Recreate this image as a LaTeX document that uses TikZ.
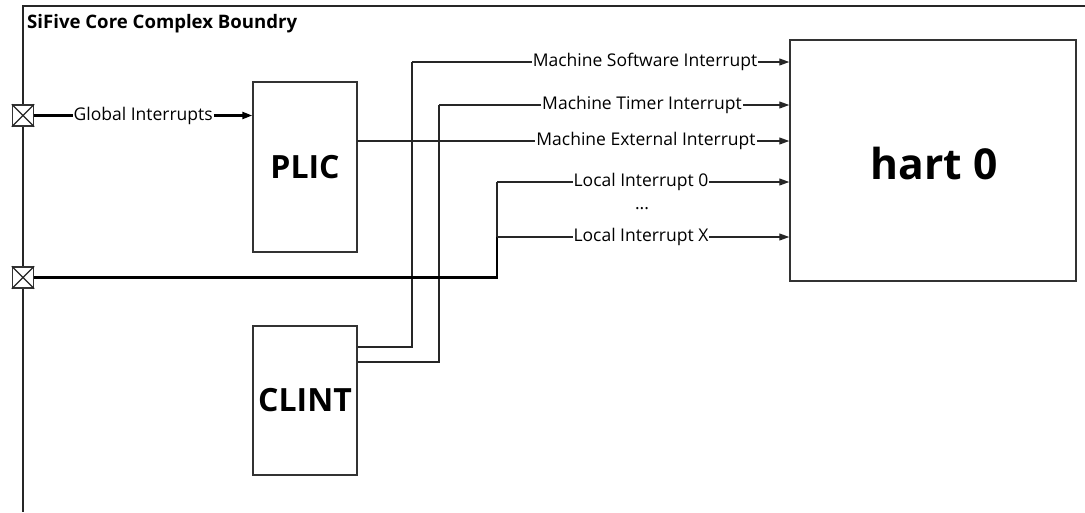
\documentclass[tikz,border=0pt]{standalone}
\usepackage{fontspec}
\setmainfont{Open Sans}
\usetikzlibrary{arrows.meta,calc}
\begin{document}
\begin{tikzpicture}[x=1pt,y=-1pt,
  line/.style={draw=black!85, line width=1.2pt},
  thickline/.style={draw=black, line width=2.6pt},
  arr/.style={-{Triangle[length=10pt,width=7pt]}},
  box/.style={draw=black!80, line width=1.5pt, fill=white, inner sep=0pt},
  port/.style={draw=black!80, line width=1.3pt, fill=white, minimum size=21pt, inner sep=0pt},
  lbl/.style={fill=white, inner sep=1pt, font=\fontsize{17.5}{20}\selectfont},
  big/.style={font=\fontsize{#1}{#1}\selectfont\bfseries},
]
\useasboundingbox (0,0) rectangle (1085,512);
% boundary
\draw[line] (1085,6) -- (23,6) -- (23,512);
\node[anchor=north west, inner sep=0pt, font=\fontsize{18.6}{20}\selectfont\bfseries] (title) at (27,14) {SiFive Core Complex Boundry};

% boxes
\node[box, minimum width=104pt, minimum height=170pt, big=32] (plic) at (305,167) {PLIC};
\node[box, minimum width=104pt, minimum height=149pt, big=32] (clint) at (305,400.5) {CLINT};
\node[box, minimum width=286pt, minimum height=241pt] (hart) at (933,160.5) {};
\node[big=42.6] (hartlbl) at (934,164) {hart 0};

% ports
\node[port] (port1) at (23,115.5) {};
\draw[line, line width=1.1pt] (port1.north west) -- (port1.south east) (port1.south west) -- (port1.north east);
\node[port] (port2) at (23,277.5) {};
\draw[line, line width=1.1pt] (port2.north west) -- (port2.south east) (port2.south west) -- (port2.north east);

% global interrupts
\draw[draw=black, line width=2.2pt, arr] (port1.east) -- node[lbl, pos=0.5]{Global Interrupts} (port1.east -| plic.west);

% coordinates
\coordinate (ms0) at ($(clint.east)+(0,-53.5)$);
\coordinate (mt0) at ($(clint.east)+(0,-38.5)$);
\coordinate (mscorner) at (412,62);
\coordinate (mtcorner) at (439,105);
\coordinate (me0) at (357,141);
\coordinate (lxcorner) at (497,237);
\coordinate (l0corner) at (497,182);

% CLINT -> hart
\draw[line] (ms0) -| (mscorner);
\draw[line, arr] (mscorner) -- (mscorner -| hart.west);
\draw[line] (mt0) -| (mtcorner);
\draw[line, arr] (mtcorner) -- (mtcorner -| hart.west);
% PLIC -> hart
\draw[line, arr] (me0) -- (me0 -| hart.west);
% local interrupts
\draw[thickline] (port2.east) -| (lxcorner |- 0,233);
\draw[line] (lxcorner) -- (l0corner);
\draw[line, arr] (lxcorner) -- (lxcorner -| hart.west);
\draw[line, arr] (l0corner) -- (l0corner -| hart.west);

% labels
\node[lbl] (lms) at (645,62) {Machine Software Interrupt};
\node[lbl] (lmt) at (642,105) {Machine Timer Interrupt};
\node[lbl] (lme) at (646,141) {Machine External Interrupt};
\node[lbl] (ll0) at (641,182) {Local Interrupt 0};
\node[lbl] (ldots) at (642,209) {...};
\node[lbl] (llx) at (641,237) {Local Interrupt X};
\end{tikzpicture}
\end{document}
